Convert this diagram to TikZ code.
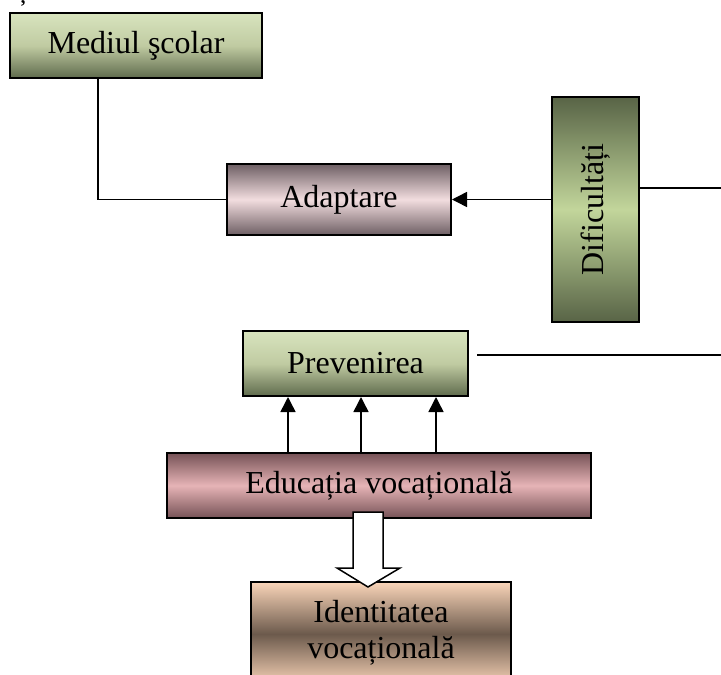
\documentclass[tikz,border=0pt]{standalone}
\usepackage{fontspec}
\setmainfont{Liberation Serif}
\usetikzlibrary{arrows.meta,calc}
\definecolor{gLight}{RGB}{216,228,190}
\definecolor{gMid}{RGB}{192,203,162}
\definecolor{gDark}{RGB}{95,107,77}
\definecolor{mEdge}{RGB}{110,95,100}
\definecolor{mMid}{RGB}{242,221,223}
\definecolor{dEdge}{RGB}{88,100,70}
\definecolor{dMid}{RGB}{194,214,155}
\definecolor{eEdge}{RGB}{118,82,86}
\definecolor{eMid}{RGB}{230,180,182}
\definecolor{iEdge}{RGB}{250,213,185}
\definecolor{iMid}{RGB}{108,90,76}
\tikzset{
  box/.style={draw=black, line width=2pt, inner sep=0pt, font=\fontsize{32}{35}\selectfont},
  greenbox/.style={box, top color=gLight, bottom color=gDark, middle color=gMid},
  mauvebox/.style={box, top color=mEdge, bottom color=mEdge, middle color=mMid},
  olivebox/.style={box, top color=dEdge, bottom color=dEdge, middle color=dMid},
  rosebox/.style={box, top color=eEdge, bottom color=eEdge, middle color=eMid},
  peachbox/.style={box, top color=iEdge, bottom color=iEdge, middle color=iMid},
  conn/.style={line width=1.5pt},
  arr/.style={conn, -{Triangle[length=15pt,width=15pt]}},
  txt/.style={font=\fontsize{32}{35}\selectfont, inner sep=0pt}
}
\begin{document}
\begin{tikzpicture}[x=1pt,y=-1pt]
\useasboundingbox (0,0) rectangle (721,675);
% fragment of a letter cut off at the top edge
\node[txt, anchor=base] (frag) at (23,-1) {ș};
% boxes
\node[greenbox, minimum width=252pt, minimum height=65pt] (med) at (136,45.5) {Mediul şcolar};
\node[mauvebox, minimum width=224pt, minimum height=71pt] (ada) at (339,199.5) {Adaptare};
\node[olivebox, minimum width=87pt, minimum height=225pt] (dif) at (595.5,209.5) {};
\node[txt, rotate=90] (diflabel) at (dif.center) {Dificultăți};
\node[greenbox, minimum width=225pt, minimum height=65pt] (prev) at (355.5,363.5) {Prevenirea};
\node[rosebox, minimum width=424pt, minimum height=65pt] (edu) at (379,485.5) {Educația vocațională};
\node[peachbox, minimum width=260pt, minimum height=104pt] (ident) at (381,634) {};
\node[font=\fontsize{32}{36}\selectfont, inner sep=0pt, align=center, anchor=north] (identlabel) at (381,600) {Identitatea\\vocațională};
% connectors
\coordinate (r1) at (721,188);
\coordinate (r2) at (721,355);
\coordinate (a1) at (288,0);
\coordinate (a2) at (361,0);
\coordinate (a3) at (436,0);
\draw[conn] ([xshift=-38pt]med.south) |- (ada.west);
\draw[arr] (dif.west |- ada.east) -- (ada.east);
\draw[conn] (dif.east |- r1) -- (r1);
\draw[conn] ($(prev.east |- r2)+(8,0)$) -- (r2);
\draw[arr] (edu.north -| a1) -- (prev.south -| a1);
\draw[arr] (edu.north -| a2) -- (prev.south -| a2);
\draw[arr] (edu.north -| a3) -- (prev.south -| a3);
% block arrow from Educatia to Identitatea
\draw[line width=1.5pt, fill=white, line join=miter]
  (353,512) -- (383,512) -- (383,568) -- (400,568) -- (368,587) -- (337,568) -- (353,568) -- cycle;
\end{tikzpicture}
\end{document}
